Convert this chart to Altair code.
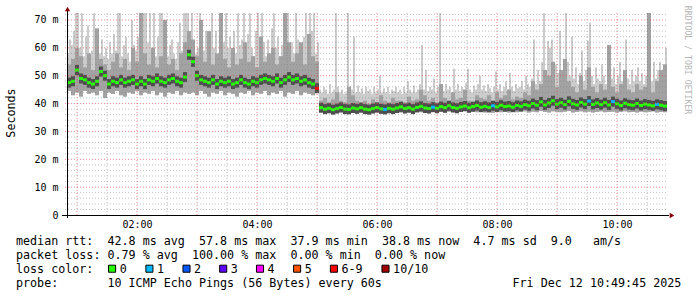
import altair as alt
import pandas as pd

# ---------------- data ----------------
# 4-minute bins for median / smoke body, first bin starts 00:50
BIN_START = 50          # minutes after midnight
BIN_MIN = 4
# 2-minute bins for the outer smoke (max of the pings)
SPIKE_MIN = 2

median = [
    47.5, 48.0, 52.0, 49.0, 48.5, 47.5, 47.0, 48.0, 51.5, 50.0,
    47.0, 48.0, 47.5, 48.5, 47.5, 48.0, 48.5, 47.0, 48.0, 47.0,
    48.5, 48.0, 49.0, 48.0, 47.5, 48.5, 49.0, 48.0, 47.5, 49.5,
    57.5, 55.0, 50.0, 48.5, 48.0, 47.5, 48.5, 47.0, 48.0, 47.5,
    48.0, 47.0, 47.5, 48.5, 47.5, 47.0, 48.0, 47.5, 48.5, 49.0,
    48.5, 48.0, 49.0, 47.5, 48.5, 49.5, 48.5, 49.0, 48.0, 48.5,
    47.5, 47.0, 45.5,
    38.5, 38.0, 38.3, 37.8, 38.2, 38.6, 38.0, 37.9, 38.4, 38.1,
    38.5, 38.0, 37.8, 38.2, 38.6, 38.1, 37.9, 38.3, 38.0, 38.4,
    38.8, 38.2, 38.5, 38.0, 38.6, 39.0, 38.4, 38.2, 38.7, 38.3,
    38.9, 38.5, 39.2, 38.6, 38.3, 38.8, 39.1, 38.5, 38.9, 39.3,
    38.7, 39.0, 38.6, 39.2, 38.8, 39.4, 38.9, 39.1, 38.7, 39.3,
    39.0, 39.6, 39.2, 40.0, 39.4, 40.6, 39.5, 40.2, 41.0, 39.8,
    40.3, 39.6, 40.8, 39.9, 39.5, 40.4, 39.8, 40.9, 39.7, 40.2,
    39.6, 40.3, 39.5, 40.7, 39.9, 39.3, 40.1, 39.6, 39.4, 40.0,
    39.3, 39.8, 39.5, 39.2, 39.7, 39.4, 39.1,
]

smoke_low = [
    44.5, 43.0, 44.0, 42.5, 44.5, 43.5, 44.0, 43.0, 44.5, 42.0,
    44.0, 43.5, 44.5, 43.0, 42.5, 44.0, 43.5, 44.5, 43.0, 44.0,
    43.5, 44.5, 43.0, 44.0, 42.5, 44.0, 43.5, 44.5, 43.0, 44.0,
    43.5, 44.0, 43.0, 44.5, 43.5, 42.5, 44.0, 43.5, 44.5, 43.0,
    44.0, 43.5, 42.5, 44.0, 43.5, 44.5, 43.0, 44.0, 43.5, 44.5,
    43.0, 44.0, 43.5, 44.5, 42.5, 44.0, 43.5, 44.5, 43.0, 44.0,
    43.5, 43.0, 44.0,
    37.0, 36.8, 37.2, 36.6, 37.0, 36.9, 37.1, 36.7, 37.0, 36.8,
    37.1, 36.7, 36.9, 37.2, 36.8, 37.0, 36.6, 37.1, 36.9, 37.0,
    36.8, 37.2, 37.0, 36.7, 37.1, 36.9, 37.0, 36.8, 37.2, 36.9,
    37.0, 36.8, 37.1, 36.9, 36.7, 37.0, 37.2, 36.8, 37.0, 36.9,
    37.1, 36.8, 37.0, 36.7, 37.2, 36.9, 37.0, 36.8, 37.1, 36.9,
    37.0, 37.2, 36.8, 37.1, 36.9, 37.3, 37.0, 36.8, 37.2, 37.0,
    36.9, 37.1, 37.3, 36.8, 37.0, 37.2, 36.9, 37.1, 36.8, 37.0,
    37.2, 36.9, 37.0, 37.1, 36.8, 37.0, 37.2, 36.9, 37.0, 36.8,
    37.1, 36.9, 37.0, 37.2, 36.8, 37.0, 36.9,
]

smoke_mid_high = [
    54, 56, 60, 57, 53, 58, 52, 67, 56, 54,
    52, 55, 58, 53, 56, 52, 60, 55, 72.5, 58,
    54, 60, 53, 57, 70, 54, 56, 52, 58, 62,
    66, 63, 57, 70, 55, 66, 54, 58, 72.5, 56,
    53, 60, 54, 56, 62, 55, 57, 53, 64, 55,
    58, 60, 54, 57, 72.5, 62, 55, 58, 62, 54,
    65, 57, 55,
    41, 42, 40.5, 41.5, 44, 41, 40.5, 46, 43, 41,
    40.5, 41, 40, 41.5, 40.5, 43, 41, 40.5, 42, 41,
    41, 40.5, 42.5, 41, 41.5, 45, 43, 41, 42, 40.5,
    47, 42, 41, 44, 41.5, 42, 45, 41, 40.5, 43,
    42, 41.5, 43, 41, 44, 42, 43, 45, 41.5, 42.5,
    42, 44, 43, 48, 45, 47, 52, 50, 55, 46,
    52, 56, 48, 46, 44, 50, 45, 53, 46, 44,
    47, 45, 61, 46, 44, 47, 52, 45, 44, 47,
    45, 46, 72.5, 44, 48, 52, 54,
]

# outer smoke top, 2-minute resolution (72.5 = clipped at the top)
smoke_max = [
    58, 63, 61, 66, 72.5, 72.5, 60, 72.5, 57, 64,
    68, 56, 59, 72.5, 61, 66, 58, 63, 57, 60,
    56, 62, 58, 65, 59, 72.5, 72.5, 57, 61, 64,
    58, 55, 70, 61, 59, 64, 72.5, 57, 72.5, 72.5,
    62, 72.5, 60, 72.5, 57, 64, 72.5, 72.5, 59, 66,
    57, 61, 63, 58, 56, 62, 69, 59, 72.5, 72.5,
    72.5, 64, 72.5, 62, 58, 60, 72.5, 63, 59, 66,
    58, 61, 72.5, 60, 66, 57, 63, 72.5, 62, 72.5,
    60, 64, 57, 66, 58, 72.5, 61, 63, 72.5, 58,
    65, 72.5, 60, 57, 66, 72.5, 59, 72.5, 62, 57,
    63, 58, 67, 72.5, 60, 64, 57, 61, 72.5, 66,
    72.5, 59, 62, 58, 72.5, 63, 60, 57, 64, 72.5,
    61, 72.5, 66, 72.5, 58, 62,
    45, 44, 46, 45, 43.5, 47, 44, 45, 72.5, 46,
    44, 45, 43.5, 44, 72.5, 46, 45, 64, 44, 46.5,
    44, 45.5, 43.5, 46, 44.5, 45, 43.5, 46, 44, 45,
    50, 44, 45.5, 44, 46, 43.5, 45, 44.5, 46, 44,
    45, 43.5, 46, 44, 48, 45, 44, 46.5, 44, 45,
    47, 61, 45, 52, 44.5, 46, 45, 49, 44, 46,
    72.5, 45, 44.5, 47, 45, 46, 44, 52.5, 45, 47,
    44.5, 46, 45, 47.5, 52.5, 45, 44, 46.5, 45, 47,
    50, 45, 46.5, 44.5, 47, 45.5, 44, 46, 51.5, 45,
    47, 44.5, 46, 48, 45, 51, 46, 44.5, 47, 45.5,
    46, 48, 45, 50, 47, 46, 49, 63, 47, 52,
    48, 55, 72.5, 50, 62.5, 60, 63, 49, 54, 51,
    66, 52, 48, 72.5, 55, 50, 64, 49, 53, 47,
    51, 59, 48, 52, 62.5, 69, 50, 47, 53, 49,
    48, 54, 50, 47, 52, 61, 49, 53, 47, 50,
    55, 48, 51, 63, 49, 47, 52, 48, 50, 53,
    48, 51, 47, 50, 72.5, 53, 48, 55, 49, 52,
    55, 50, 54, 60,
]

# loss category index per 4-minute bin (0 = no loss)
loss = [
    0, 0, 0, 0, 0, 0, 0, 0, 0, 0,
    0, 0, 0, 0, 0, 0, 0, 0, 0, 0,
    0, 0, 0, 0, 0, 0, 0, 0, 0, 0,
    0, 0, 0, 0, 0, 0, 0, 0, 0, 0,
    0, 0, 0, 0, 0, 0, 0, 0, 0, 0,
    0, 0, 0, 0, 0, 0, 0, 0, 0, 0,
    0, 0, 6,
    0, 0, 0, 0, 0, 0, 0, 0, 0, 0,
    0, 0, 0, 0, 0, 0, 1, 0, 0, 0,
    0, 0, 0, 0, 0, 0, 0, 0, 1, 0,
    0, 0, 0, 0, 0, 0, 0, 0, 0, 0,
    0, 0, 0, 1, 0, 0, 0, 0, 0, 0,
    0, 0, 0, 0, 0, 0, 0, 0, 0, 0,
    0, 0, 0, 0, 0, 0, 0, 1, 0, 0,
    0, 0, 0, 1, 0, 0, 0, 0, 0, 0,
    0, 0, 0, 0, 1, 0, 0,
]

loss_labels = ["0", "1", "2", "3", "4", "5", "6-9", "10/10"]
loss_colors = ["#26ff00", "#00b8ff", "#0059ff", "#5e00ff", "#ff00ff", "#ff5500", "#ff0000", "#a10000"]

y_label_values = [0, 10, 20, 30, 40, 50, 60, 70]
y_major = [10, 20, 30, 40, 50, 60, 70]
y_minor = [2, 4, 6, 8, 12, 14, 16, 18, 22, 24, 26, 28, 32, 34, 36, 38,
           42, 44, 46, 48, 52, 54, 56, 58, 62, 64, 66, 68, 72]
x_label_values = [120, 240, 360, 480, 600]
x_major = [60, 120, 180, 240, 300, 360, 420, 480, 540, 600]
x_minor = [90, 150, 210, 270, 330, 390, 450, 510, 570, 630]

legend_rtt = "median rtt:  42.8 ms avg  57.8 ms max  37.9 ms min  38.8 ms now  4.7 ms sd  9.0   am/s"
legend_loss = "packet loss: 0.79 % avg  100.00 % max  0.00 % min  0.00 % now"
legend_color = "loss color:"
legend_probe = "probe:       10 ICMP Echo Pings (56 Bytes) every 60s"
stamp = "Fri Dec 12 10:49:45 2025"
y_title = "Seconds"
watermark = "RRDTOOL / TOBI OETIKER"

# ---------------- chart ----------------
MONO = "DejaVu Sans Mono"
W, H = 601, 202
NB = "\u00a0"

n = len(median)
df = pd.DataFrame({
    "start": [BIN_START + BIN_MIN * i for i in range(n)],
    "end": [BIN_START + BIN_MIN * (i + 1) for i in range(n)],
    "med": median,
    "lo": smoke_low,
    "hi2": smoke_mid_high,
    "loss": [loss_labels[k] for k in loss],
})
ratio = BIN_MIN // SPIKE_MIN
m = len(smoke_max)
df_spk = pd.DataFrame({
    "start": [BIN_START + SPIKE_MIN * j for j in range(m)],
    "end": [BIN_START + SPIKE_MIN * (j + 1) for j in range(m)],
    "lo": [smoke_low[j // ratio] for j in range(m)],
    "hi1": smoke_max,
})

xs = alt.Scale(domain=[50, 651], nice=False, zero=False)
ys = alt.Scale(domain=[0, 72.5], nice=False)

x_axis = alt.Axis(values=x_label_values, title=None, grid=False, domain=False, ticks=True,
                  tickSize=0, labelFont=MONO, labelFontSize=10, labelColor="#000000",
                  labelPadding=4, labelFlush=False,
                  labelExpr="(floor(datum.value/60) < 10 ? '0' : '') + floor(datum.value/60) + ':00'")
y_axis = alt.Axis(values=y_label_values, title=None, grid=False, domain=False, ticks=True,
                  tickSize=0, labelFont=MONO, labelFontSize=10, labelColor="#000000",
                  labelPadding=9,
                  labelExpr="datum.value == 0 ? '0" + NB + NB + "' : datum.value + ' m'")

X = alt.X("start:Q", scale=xs, axis=x_axis)
Y = lambda f: alt.Y(f, type="quantitative", scale=ys, axis=y_axis)

base = alt.Chart(df)
light = alt.Chart(df_spk).mark_rect(color="#cccccc", clip=True).encode(
    x=X, x2="end:Q", y=Y("lo"), y2="hi1:Q")
mid = base.mark_rect(color="#a2a2a2", clip=True).encode(x=X, x2="end:Q", y=Y("lo"), y2="hi2:Q")
dark = base.mark_rule(color="#4e4e4e", strokeWidth=10, clip=True).encode(x=X, x2="end:Q", y=Y("med"))
medline = base.mark_rule(strokeWidth=3, clip=True).encode(
    x=X, x2="end:Q", y=Y("med"),
    color=alt.Color("loss:N", scale=alt.Scale(domain=loss_labels, range=loss_colors), legend=None))

def vgrid(vals, color, op):
    return alt.Chart(pd.DataFrame({"m": vals})).mark_rule(
        color=color, opacity=op, strokeWidth=1, strokeDash=[1, 2]).encode(
        x=alt.X("m:Q", scale=xs, axis=x_axis), y=alt.value(0), y2=alt.value(H + 2))

def hgrid(vals, color, op):
    return alt.Chart(pd.DataFrame({"v": vals})).mark_rule(
        color=color, opacity=op, strokeWidth=1, strokeDash=[1, 2]).encode(
        y=alt.Y("v:Q", scale=ys, axis=y_axis), x=alt.value(-2), x2=alt.value(W))

one = pd.DataFrame({"k": [0]})

xline = alt.Chart(one).mark_rule(color="#000000", strokeWidth=1).encode(
    x=alt.value(-5), x2=alt.value(W + 1), y=alt.value(H + 0.5))
yline = alt.Chart(one).mark_rule(color="#000000", strokeWidth=1).encode(
    x=alt.value(0.5), y=alt.value(-3), y2=alt.value(H + 3))
arrow_up = alt.Chart(one).mark_point(shape="triangle-up", filled=True, color="#8b0000",
                                      size=28, opacity=1).encode(x=alt.value(0.5), y=alt.value(-4))
arrow_right = alt.Chart(one).mark_point(shape="triangle-right", filled=True, color="#8b0000",
                                         size=28, opacity=1).encode(x=alt.value(W + 4), y=alt.value(H + 0.5))

def txt(s, x, y, size=11.7, align="left", angle=0, color="#000000", baseline="alphabetic"):
    return alt.Chart(pd.DataFrame({"t": [s.replace(" ", NB)]})).mark_text(
        font=MONO, fontSize=size, align=align, baseline=baseline, angle=angle, color=color).encode(
        text="t:N", x=alt.value(x), y=alt.value(y))

LX = 16 - 67
rows = [232.4, 246.1, 259.8, 273.5]
texts = [
    txt(legend_rtt, LX, rows[0]),
    txt(legend_loss, LX, rows[1]),
    txt(legend_color, LX, rows[2]),
    txt(legend_probe, LX, rows[3]),
    txt(stamp, 512.5 - 67, rows[3]),
    txt(y_title, 10.5 - 67, 100, angle=270, align="center", baseline="middle"),
    txt(watermark, 687 - 67, 47, size=8.2, align="center", angle=90, color="#b4b4b4", baseline="middle"),
]

sw_left = [108.3, 145.6, 182.7, 219.4, 256.2, 293.3, 330.1, 381.7]
swatches = []
for i, (lab, col) in enumerate(zip(loss_labels, loss_colors)):
    cx = sw_left[i] + 3.8 - 67
    swatches.append(alt.Chart(pd.DataFrame({"c": [lab]})).mark_square(
        size=50, filled=True, fill=col, stroke="#000000", strokeWidth=1, opacity=1).encode(
        x=alt.value(cx), y=alt.value(255.7)))
    swatches.append(txt(lab, sw_left[i] + 11.4 - 67, rows[2]))

chart = alt.layer(
    light, mid, dark, medline,
    vgrid(x_minor, "#808080", 0.5), vgrid(x_major, "#e04040", 0.6),
    hgrid(y_minor, "#808080", 0.5), hgrid(y_major, "#e04040", 0.6),
    xline, yline, arrow_up, arrow_right,
    *texts, *swatches,
).properties(
    width=W, height=H,
    padding={"left": 67, "top": 13, "right": 29, "bottom": 82},
    autosize=alt.AutoSizeParams(type="none"),
    background="#ffffff",
).configure_view(stroke=None)

chart.save("out.html", embed_options={"renderer": "svg", "actions": False})
